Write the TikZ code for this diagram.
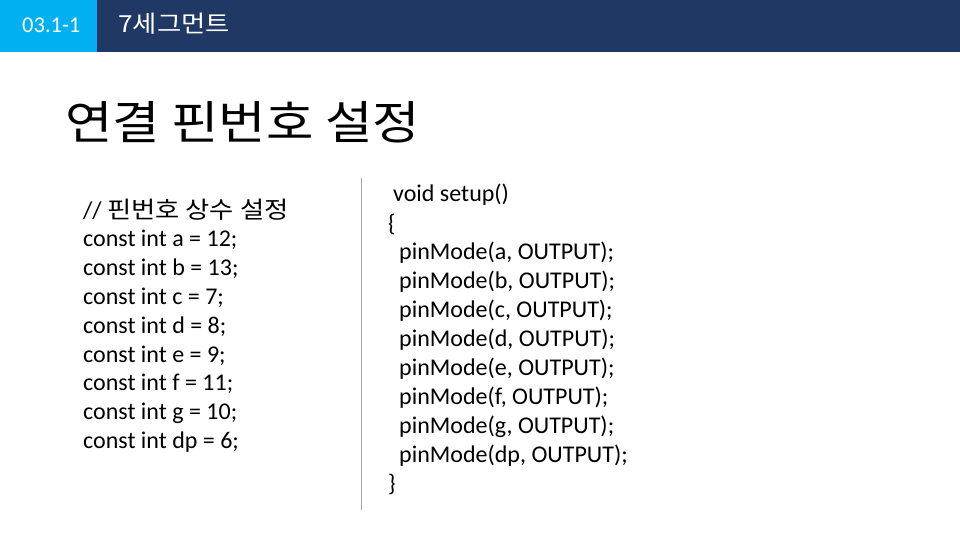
\documentclass[tikz,border=0pt]{standalone}
\usepackage{fontspec}
\setmainfont{Carlito}
\newfontfamily\kr[FakeStretch=1.12]{Noto Sans CJK KR}
\definecolor{navy}{HTML}{203864}
\definecolor{sky}{HTML}{00B0F0}
\definecolor{rule}{HTML}{A6A6A6}
\begin{document}
\begin{tikzpicture}[x=1pt,y=-1pt,
  code/.style={anchor=west,inner sep=0pt,font=\fontsize{24}{28}\selectfont},
  hdr/.style={anchor=west,inner sep=0pt,text=white}]
\useasboundingbox (0,0) rectangle (960,540);
\fill[white] (0,0) rectangle (960,540);
\fill[navy] (0,0) rectangle (960,52);
\fill[sky] (0,0) rectangle (97,52);
\node[hdr,font=\fontsize{22.5}{26}\selectfont] (num) at (22,25) {03.1-1};
\node[hdr,font=\kr\fontsize{23.5}{28}\selectfont] (sec) at (118,24) {7세그먼트};
\node[anchor=west,inner sep=0pt,font=\kr\fontsize{46}{52}\selectfont] (title) at (65,122) {연결 핀번호 설정};
\draw[rule,line width=0.8pt] (361,178) coordinate (l1) -- (361,510) coordinate (l2);
\node[code] (c0) at (83,210) {// {\kr\fontsize{23.5}{28}\selectfont 핀번호 상수 설정}};
\node[code] (c1) at (83,240) {const int a = 12;};
\node[code] (c2) at (83,269) {const int b = 13;};
\node[code] (c3) at (83,298) {const int c = 7;};
\node[code] (c4) at (83,327) {const int d = 8;};
\node[code] (c5) at (83,356) {const int e = 9;};
\node[code] (c6) at (83,384) {const int f = 11;};
\node[code] (c7) at (83,413) {const int g = 10;};
\node[code] (c8) at (83,442) {const int dp = 6;};
\node[code] (s0) at (393,195) {void setup()};
\node[code] (s1) at (388,224) {\{};
\node[code] (p1) at (399,253) {pinMode(a, OUTPUT);};
\node[code] (p2) at (399,282) {pinMode(b, OUTPUT);};
\node[code] (p3) at (399,311) {pinMode(c, OUTPUT);};
\node[code] (p4) at (399,340) {pinMode(d, OUTPUT);};
\node[code] (p5) at (399,369) {pinMode(e, OUTPUT);};
\node[code] (p6) at (399,398) {pinMode(f, OUTPUT);};
\node[code] (p7) at (399,427) {pinMode(g, OUTPUT);};
\node[code] (p8) at (399,456) {pinMode(dp, OUTPUT);};
\node[code] (s2) at (388,484) {\}};
\end{tikzpicture}
\end{document}
